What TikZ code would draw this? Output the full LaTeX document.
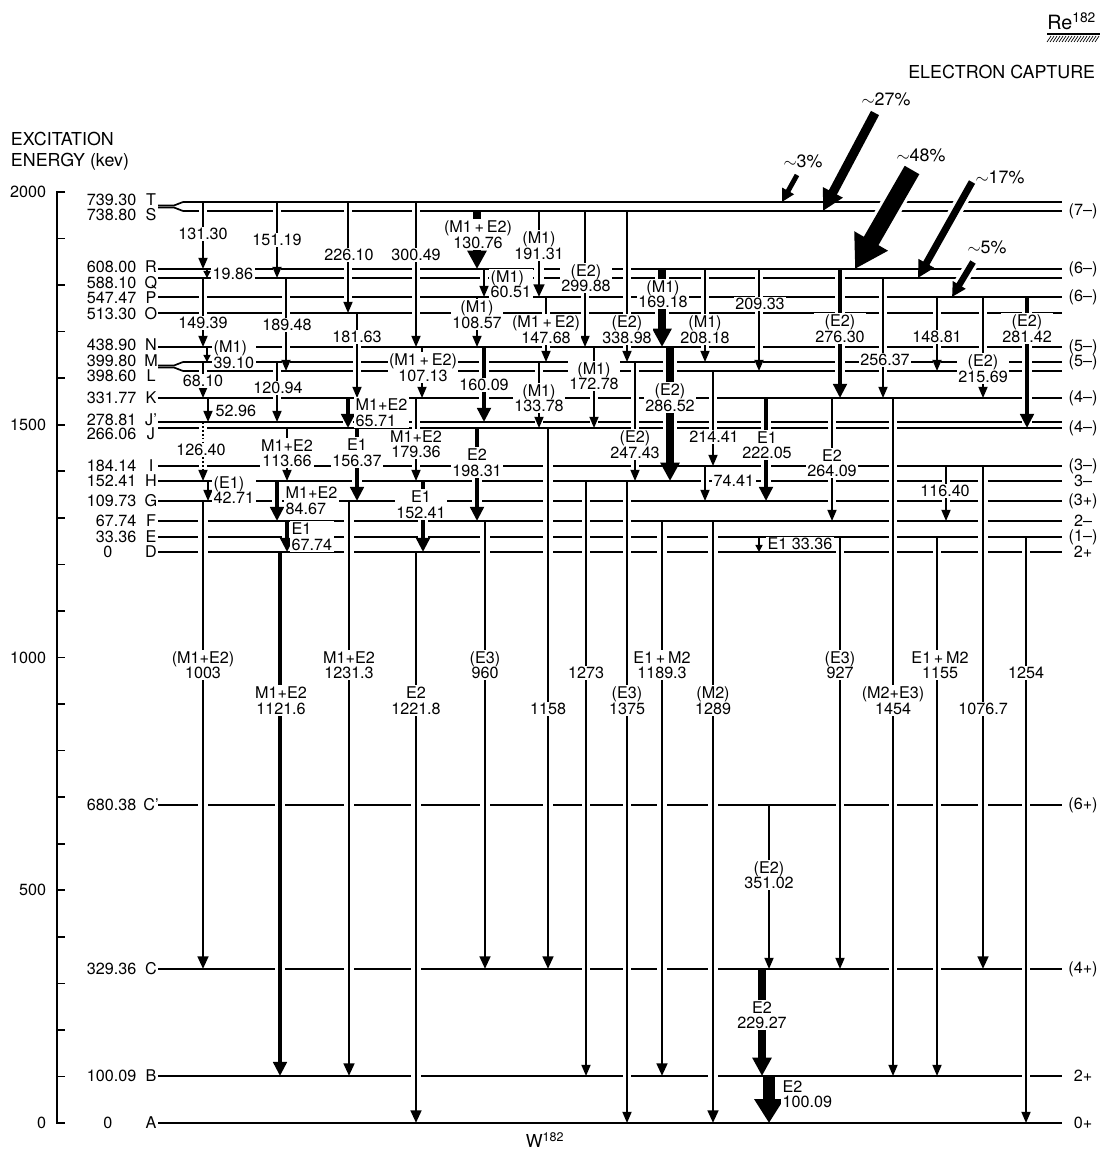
\documentclass[tikz,border=0pt]{standalone}
\usepackage{fontspec}
\setmainfont{TeX Gyre Heros}
\usetikzlibrary{arrows.meta}
\newcommand{\hdfont}{\fontsize{12.7}{15}\selectfont}

\tikzset{
  lvl/.style={line width=1.2pt},
  tn/.style={line width=1.1pt, -{Triangle[width=6.5pt,length=8pt]}},
  sh/.style={line width=1pt, -{Triangle[width=5pt,length=5pt]}},
  dt/.style={tn, dash pattern=on 1.2pt off 1.6pt},
  md/.style={line width=2pt, -{Triangle[width=7.5pt,length=9pt]}},
  tk/.style={line width=3.2pt, -{Triangle[width=9.5pt,length=10pt]}},
  hv/.style={line width=5.5pt, -{Triangle[width=13pt,length=13pt]}},
  hx/.style={line width=8.5pt, -{Triangle[width=20pt,length=17pt]}},
  halo/.style={white, shorten <=3pt, shorten >=3pt},
  halo-tn/.style={halo, line width=5.6pt},
  halo-sh/.style={halo, line width=5.5pt},
  halo-dt/.style={halo, line width=5.6pt},
  halo-md/.style={halo, line width=6.5pt},
  halo-tk/.style={halo, line width=7.7pt},
  halo-hv/.style={halo, line width=10pt},
  halo-hx/.style={halo, line width=13pt},
  lbl/.style={fill=white, inner sep=1pt},
  lbl-center/.style={lbl, anchor=center, align=center},
  lbl-west/.style={lbl, anchor=west, align=left},
  side/.style={inner sep=0.3pt},
}

\begin{document}
\begin{tikzpicture}[x=0.025cm, y=-0.025cm, font=\fontsize{11.5}{11}\selectfont]
\useasboundingbox (0,0) rectangle (1103,1155);

% levels: name/y/label y/energy/energy x/letter/line start
\foreach \n/\y/\ly/\en/\enx/\lt/\sx in {
  T/202/200/739.30/137/T/183, S/211/215/738.80/137/S/183,
  R/269/267/608.00/137/R/158, Q/278/283/588.10/137/Q/158,
  P/297/298/547.47/137/P/158, O/313/314/513.30/137/O/158,
  N/347/345/438.90/137/N/158, M/362/361/399.80/137/M/183,
  L/371/376/398.60/137/L/183, K/398/398/331.77/137/K/158,
  Jp/422/420/278.81/137/J'/158, J/428/434/266.06/137/J/158,
  I/466/466/184.14/137/I/158, H/481/481/152.41/137/H/158,
  G/501/501/109.73/137/G/158, F/521/521/67.74/137/F/158,
  E/537/537/33.36/137/E/158, D/552/552/0/113/D/158,
  Cp/805/805/680.38/137/C'/158, C/969/969/329.36/137/C/158,
  B/1076/1076/100.09/137/B/158, A/1123/1123/0/113/A/158} {
  \coordinate (lv\n) at (0,\y);
  \node[side, anchor=east] (en\n) at (\enx,\ly) {\en};
  \node[side] (lt\n) at (151,\ly) {\lt};
  \draw[lvl] (\sx,\y) -- (1062,\y);
}
% split ends of the close pairs
\draw[lvl] (158,205.5) -- (174,205.5) to[out=0,in=180] (183,202);
\draw[lvl] (158,207.5) -- (174,207.5) to[out=0,in=180] (183,211);
\draw[lvl] (158,365.5) -- (174,365.5) to[out=0,in=180] (183,362);
\draw[lvl] (158,367.5) -- (174,367.5) to[out=0,in=180] (183,371);

% spins
\foreach \n/\sp in {S/(7--), R/(6--), P/(6--), N/(5--), M/(5--), K/(4--), J/(4--),
  I/(3--), H/3--, G/(3+), F/2--, E/(1--), D/2+, Cp/(6+), C/(4+), B/2+, A/0+}
  \node[side] (sp\n) at (1083,0 |- lv\n) {\sp};

% energy axis
\draw[lvl] (65,192) -- (57,192) -- (57,1123) -- (65,1123);
\foreach \e in {1,...,19} \draw[lvl] (57,{1123-46.55*\e}) -- (65,{1123-46.55*\e});
\foreach \e in {0,500,1000,1500,2000}
  \node[anchor=east] (ax\e) at (51,{1123-0.4655*\e}) {\e};
\node[anchor=west, align=left, font=\hdfont] (axtitle) at (6,151) {EXCITATION\\ENERGY (kev)};

% gamma rays: x/from/to/style/label x/label y/label anchor/label
\def\trans{%
203/T/R/tn/203/234/center/{131.30},
207/R/Q/sh/211/274/west/{19.86},
203/Q/N/tn/203/323/center/{149.39},
207/N/M/sh/212/354.5/west/{(M1)\\39.10},
203/M/K/tn/203/381/center/{68.10},
208/K/Jp/tn/214/411/west/{52.96},
203/Jp/H/dt/201/450/center/{126.40},
208/H/G/tn/212/490/west/{(E1)\\42.71},
203/G/C/md/203/665/center/{(M1+E2)\\1003},
277/T/Q/tn/277/240/center/{151.19},
286/Q/L/tn/287/325/center/{189.48},
277/M/Jp/tn/278/388/center/{120.94},
287/J/H/tn/287/453/center/{M1+E2\\113.66},
277/H/F/tk/284/500.5/west/{M1+E2\\84.67},
287/F/D/tk/290/536.5/west/{E1\\67.74},
280/D/B/tk/281/700.5/center/{M1+E2\\1121.6},
348/T/O/tn/349/255/center/{226.10},
357/O/K/tn/357/337/center/{181.63},
348/K/J/tk/354/412.5/west/{M1+E2\\65.71},
357/J/G/tk/357/452.5/center/{E1\\156.37},
349/G/B/md/349/665/center/{M1+E2\\1231.3},
416/T/N/tn/416/255/center/{300.49},
422/N/K/tn/423/367.5/center/{(M1\,+\,E2)\\107.13},
416/K/H/tn/416/444/center/{M1+E2\\179.36},
423/H/D/tk/421/504.5/center/{E1\\152.41},
416/D/A/md/416/700.5/center/{E2\\1221.8},
477/S/R/hv/478/234.5/center/{(M1\,+\,E2)\\130.76},
484/R/P/tn/489/284/west/{(M1)\\60.51},
477/P/N/tn/477/314.5/center/{(M1)\\108.57},
484/N/Jp/tk/484/385/center/{160.09},
477/J/F/tk/477/462.5/center/{E2\\198.31},
485/F/C/md/485/665/center/{(E3)\\960},
539/S/P/md/539/245.5/center/{(M1)\\191.31},
546/P/M/tn/546/329.5/center/{(M1\,+\,E2)\\147.68},
539/M/J/tn/539/398/center/{(M1)\\133.78},
548/J/C/md/548/709/center/{1158},
585/S/N/tn/586/278/center/{(E2)\\299.88},
594/N/J/tn/594/376/center/{(M1)\\172.78},
586/H/B/tn/586/673/center/{1273},
627/S/M/tn/627/329.5/center/{(E2)\\338.98},
635/M/H/tn/635/444.5/center/{(E2)\\247.43},
627/H/A/tn/627/700.5/center/{(E3)\\1375},
662/R/N/hv/663/294/center/{(M1)\\169.18},
670/N/H/hv/670/397.5/center/{(E2)\\286.52},
662/F/B/md/662/665/center/{E1\,+\,M2\\1189.3},
713/F/A/md/713/700.5/center/{(M2)\\1289},
705/R/M/tn/705/329.5/center/{(M1)\\208.18},
713/L/I/tn/714/437/center/{214.41},
705/I/G/tn/712/481/west/{74.41},
759/R/L/tn/760/304/center/{209.33},
766/K/G/tk/767/445/center/{E1\\222.05},
759/E/D/sh/766/544/west/{E1 33.36},
769/Cp/C/tn/769/875/center/{(E2)\\351.02},
762/C/B/hv/762/1015/center/{E2\\229.27},
769/B/A/hx/781/1094/west/{E2\\100.09},
840/R/K/tk/840/328.5/center/{(E2)\\276.30},
832/K/F/tn/832/463/center/{E2\\264.09},
840/E/C/tn/840/665/center/{(E3)\\927},
883/Q/K/tn/885/360/center/{256.37},
893/K/B/tn/893/700.5/center/{(M2+E3)\\1454},
937/P/L/tn/937/337/center/{148.81},
946/I/F/tn/945/491/center/{116.40},
937/E/B/tn/940/665/center/{E1\,+\,M2\\1155},
983/P/K/tn/983/368.5/center/{(E2)\\215.69},
1027/P/J/tk/1027/328.5/center/{(E2)\\281.42},
983/I/C/md/983/709/center/{1076.7},
1026/E/A/tn/1026/673/center/{1254}%
}
\foreach \gx/\gf/\gt/\gc/\lx/\ly/\la/\lb in \trans
  \draw[halo-\gc] (\gx,0 |- lv\gf) -- (\gx,0 |- lv\gt);

% electron capture feeding: id/start x/start y/tip x/level/width/head w/head l/label x/label y
\def\ecap{3/797/175/782/T/3.5/9/9/803/161, 27/875/113/823/S/6.5/15/15/886/99,
  48/912/170/855/R/12/26/23/921/155, 17/972/182/918/Q/5/12/12/1000/177,
  5/973/262/952/P/4.5/10/10/987/247}
\foreach \s/\ecx/\ecy/\tx/\lv/\w/\hw/\hl/\px/\py in \ecap {
  \coordinate (ec\s) at (\ecx,\ecy);
  \draw[white, line width={\w pt+4.5pt}, shorten >=\hl pt] (ec\s) -- (\tx,0 |- lv\lv);
}

\foreach \gx/\gf/\gt/\gc/\lx/\ly/\la/\lb in \trans
  \draw[\gc] (\gx,0 |- lv\gf) -- (\gx,0 |- lv\gt);
\foreach \s/\ecx/\ecy/\tx/\lv/\w/\hw/\hl/\px/\py in \ecap {
  \draw[line width=\w pt, -{Triangle[width=\hw pt,length=\hl pt]}] (ec\s) -- (\tx,0 |- lv\lv);
  \node[font=\hdfont] (pc\s) at (\px,\py) {$\sim$\s\%};
}
\foreach \gx/\gf/\gt/\gc/\lx/\ly/\la/\lb [count=\i] in \trans
  \node[lbl-\la] (g\i) at (\lx,\ly) {\lb};

% parent and daughter
\node[anchor=base east, font=\fontsize{14}{14}\selectfont] (re) at (1101,30) {Re\textsuperscript{182}};
\draw[line width=1pt] (1047,34) -- (1100,34);
\foreach \h in {1047,1050,...,1096} \draw[line width=0.5pt] (\h,42) -- ({\h+4},36);
\node[anchor=base east, font=\hdfont] (ec) at (1100,79) {ELECTRON CAPTURE};
\node[font=\hdfont] (w) at (545,1140) {W\textsuperscript{182}};
\end{tikzpicture}
\end{document}
